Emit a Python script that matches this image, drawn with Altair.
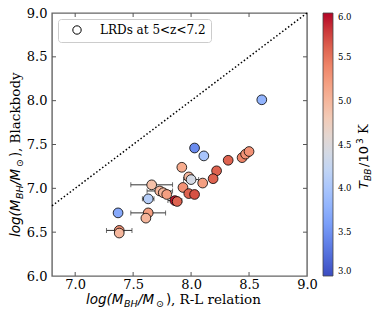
import altair as alt
import pandas as pd

# ---- data ----
x_rl = [7.66, 7.73, 7.76, 7.79, 7.63, 7.86, 7.88, 7.37, 7.63, 7.61, 7.38, 7.38,
        8.61, 8.03, 8.11, 8.32, 8.44, 8.47, 8.50, 7.92, 8.22, 8.19, 8.10, 7.98,
        8.00, 7.93, 7.98, 8.03]
y_bb = [7.04, 6.97, 6.95, 6.93, 6.88, 6.86, 6.85, 6.72, 6.72, 6.66, 6.52, 6.49,
        8.01, 7.46, 7.37, 7.32, 7.35, 7.39, 7.42, 7.24, 7.20, 7.11, 7.06, 7.13,
        7.10, 7.01, 6.94, 6.93]
t_bb = [4.9, 5.0, 5.0, 5.2, 4.1, 5.95, 5.6, 3.7, 5.2, 5.0, 5.3, 5.0,
        3.8, 3.45, 4.0, 5.6, 5.4, 5.3, 5.3, 5.1, 5.6, 5.6, 5.2, 5.0,
        4.4, 5.3, 5.6, 5.7]
x_err = [0.18, 0.11, 0.0, 0.0, 0.05, 0.06, 0.0, 0.0, 0.15, 0.0, 0.11, 0.0,
         0.0, 0.0, 0.0, 0.0, 0.0, 0.0, 0.0, 0.0, 0.0, 0.0, 0.0, 0.0,
         0.065, 0.0, 0.0, 0.0]
legend_label = "LRDs at 5<z<7.2"

x_ticks = [7.0, 7.5, 8.0, 8.5, 9.0]
y_ticks = [6.0, 6.5, 7.0, 7.5, 8.0, 8.5, 9.0]
cb_ticks = [3.0, 3.5, 4.0, 4.5, 5.0, 5.5, 6.0]
diag = [6.8, 9.0]

coolwarm = ["#3b4cc0", "#5977e3", "#7b9ff9", "#9ebeff", "#c0d4f5", "#dddcdc",
            "#f2cbb7", "#f7ac8e", "#ee8468", "#d65244", "#b40426"]
t_stops = [3.0, 3.3, 3.6, 3.9, 4.2, 4.5, 4.8, 5.1, 5.4, 5.7, 6.0]

W, H = 255, 263

df = pd.DataFrame({"x": x_rl, "y": y_bb, "t": t_bb, "e": x_err, "lab": legend_label})
df["lo"] = df["x"] - df["e"]
df["hi"] = df["x"] + df["e"]
err = df[df["e"] > 0]
diag_df = pd.DataFrame({"x": diag, "y": diag})

xscale = alt.Scale(domain=[6.8, 9.0], nice=False, zero=False)
yscale = alt.Scale(domain=[6.0, 9.0], nice=False, zero=False)
xaxis = alt.Axis(values=x_ticks, format=".1f", ticks=False, domain=False, grid=False,
                 title=None, labelFont="DejaVu Serif", labelFontSize=13,
                 labelColor="black", labelPadding=2, labelFlush=False)
yaxis = alt.Axis(values=y_ticks, format=".1f", ticks=False, domain=False, grid=False,
                 title=None, labelFont="DejaVu Serif", labelFontSize=13,
                 labelColor="black", labelPadding=5, labelFlush=False)

line = alt.Chart(diag_df).mark_line(color="black", strokeDash=[1.5, 2.2], strokeWidth=1.5).encode(
    x=alt.X("x:Q", scale=xscale, axis=xaxis),
    y=alt.Y("y:Q", scale=yscale, axis=yaxis),
)

bars = alt.Chart(err).mark_rule(color="#333", strokeWidth=1).encode(
    x=alt.X("lo:Q", scale=xscale, axis=xaxis), x2="hi:Q",
    y=alt.Y("y:Q", scale=yscale, axis=yaxis),
)
cap_lo = alt.Chart(err).mark_tick(color="#333", orient="vertical", size=5, thickness=1).encode(
    x=alt.X("lo:Q", scale=xscale, axis=xaxis), y=alt.Y("y:Q", scale=yscale, axis=yaxis))
cap_hi = alt.Chart(err).mark_tick(color="#333", orient="vertical", size=5, thickness=1).encode(
    x=alt.X("hi:Q", scale=xscale, axis=xaxis), y=alt.Y("y:Q", scale=yscale, axis=yaxis))

pts = alt.Chart(df).mark_point(filled=True, size=95, stroke="black", strokeWidth=0.8, opacity=1).encode(
    x=alt.X("x:Q", scale=xscale, axis=xaxis),
    y=alt.Y("y:Q", scale=yscale, axis=yaxis),
    fill=alt.Fill("t:Q", scale=alt.Scale(domain=t_stops, range=coolwarm, interpolate="rgb"),
                  legend=alt.Legend(orient="none", legendX=271, legendY=0, direction="vertical",
                                    gradientLength=H, gradientThickness=10, title=None,
                                    values=cb_ticks, format=".1f", labelFont="DejaVu Serif",
                                    labelFontSize=8.5, labelColor="black", labelOverlap=False,
                                    labelBaseline="middle",
                                    gradientStrokeColor="#444", gradientStrokeWidth=0.8,
                                    labelOffset=5)),
    shape=alt.Shape("lab:N", scale=alt.Scale(range=["circle"]),
                    legend=alt.Legend(orient="none", legendX=6, legendY=6, title=None,
                                      fillColor="white", strokeColor="#cccccc", cornerRadius=3,
                                      padding=5, symbolSize=70, symbolFillColor="white",
                                      symbolStrokeColor="black", symbolStrokeWidth=1,
                                      symbolOffset=8,
                                      labelFont="DejaVu Serif", labelFontSize=12,
                                      labelColor="black", labelOffset=17)),
)

xt = pd.DataFrame({"v": x_ticks[:-1]})
yt = pd.DataFrame({"v": y_ticks[1:-1]})
tick_color = "#555"
t_top = alt.Chart(xt).mark_rule(color=tick_color).encode(
    x=alt.X("v:Q", scale=xscale, axis=xaxis), y=alt.value(0), y2=alt.value(4))
t_bot = alt.Chart(xt).mark_rule(color=tick_color).encode(
    x=alt.X("v:Q", scale=xscale, axis=xaxis), y=alt.value(H - 4), y2=alt.value(H))
t_left = alt.Chart(yt).mark_rule(color=tick_color).encode(
    y=alt.Y("v:Q", scale=yscale, axis=yaxis), x=alt.value(0), x2=alt.value(4))
t_right = alt.Chart(yt).mark_rule(color=tick_color).encode(
    y=alt.Y("v:Q", scale=yscale, axis=yaxis), x=alt.value(W - 4), x2=alt.value(W))

one = pd.DataFrame({"a": [0]})


def seg(text, x, y, size, font="DejaVu Sans", style="italic", dy=0, angle=0):
    return alt.Chart(one).mark_text(text=text, align="left", baseline="alphabetic",
                                    font=font, fontSize=size, fontStyle=style, dy=dy,
                                    angle=angle, color="black").encode(
        x=alt.value(x), y=alt.value(y))


# x-axis title
xb = 291
x0 = 34
xt_layers = [
    seg("log(M", x0, xb, 13.5),
    seg("BH", x0 + 38, xb, 9.5, dy=3),
    seg("/M", x0 + 52, xb, 13.5),
    seg("⊙", x0 + 70, xb, 9.5, style="normal", dy=3),
    seg(")", x0 + 80, xb, 13.5, style="normal"),
    seg(", R-L relation", x0 + 85, xb, 13.5, font="DejaVu Serif", style="normal"),
]

# y-axis title (rotated, reading upwards)
yb = -32
y0 = 224
yt_layers = [
    seg("log(M", yb, y0, 13.5, angle=270),
    seg("BH", yb, y0 - 38, 9.5, dy=3, angle=270),
    seg("/M", yb, y0 - 52, 13.5, angle=270),
    seg("⊙", yb, y0 - 70, 9.5, style="normal", dy=3, angle=270),
    seg(")", yb, y0 - 80, 13.5, style="normal", angle=270),
    seg(", Blackbody", yb, y0 - 85, 13.5, font="DejaVu Serif", style="normal", angle=270),
]

# colorbar title
cb = 316
c0 = 176
cb_layers = [
    seg("T", cb, c0, 13, angle=270),
    seg("BB", cb, c0 - 8, 9, dy=3, angle=270),
    seg("/10", cb, c0 - 22, 13, style="normal", angle=270),
    seg("3", cb, c0 - 45, 9, style="normal", dy=-5, angle=270),
    seg("K", cb, c0 - 55, 13, font="DejaVu Serif", style="normal", angle=270),
]

chart = alt.layer(
    line, bars, cap_lo, cap_hi, pts, t_top, t_bot, t_left, t_right,
    *xt_layers, *yt_layers, *cb_layers
).properties(
    width=W, height=H,
    autosize=alt.AutoSizeParams(type="none"),
    padding={"left": 44, "top": 5, "right": 66, "bottom": 35},
    background="white",
).configure_view(stroke="#666", strokeWidth=1.4)

chart.save("out.html", embed_options={"renderer": "svg", "actions": False})
